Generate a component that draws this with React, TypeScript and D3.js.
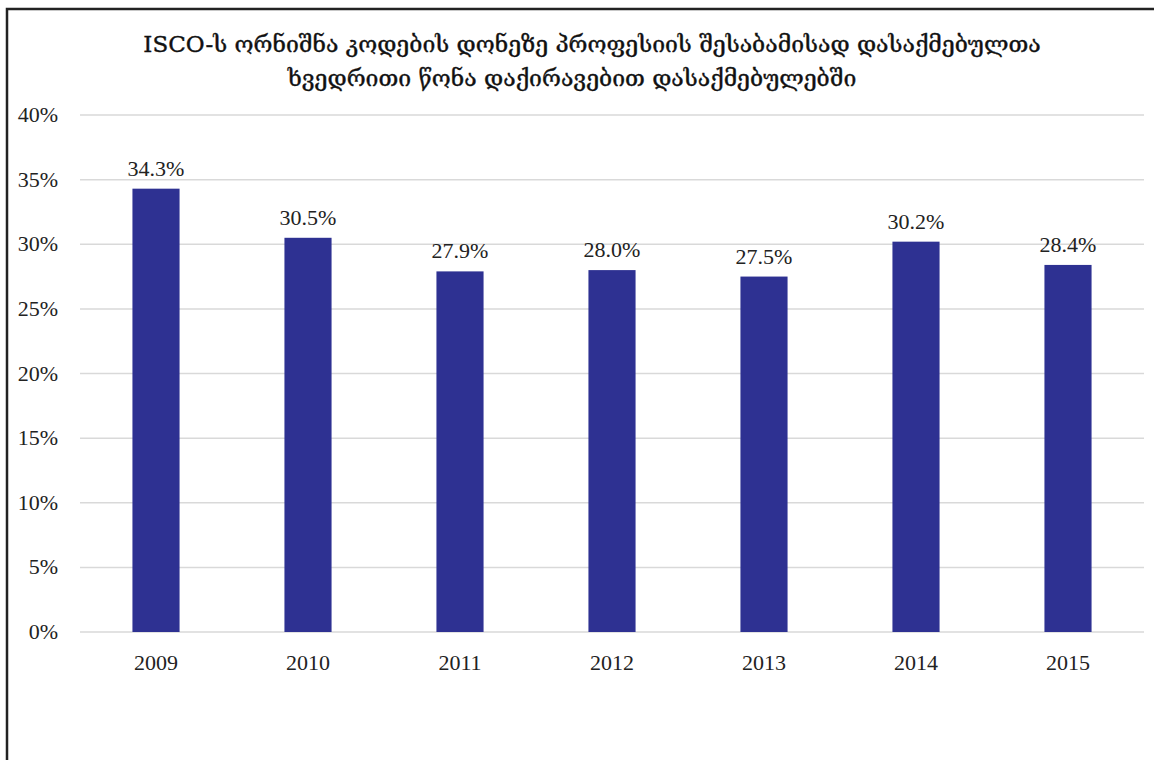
import React from "react";
import * as d3 from "d3";

const years = ["2009", "2010", "2011", "2012", "2013", "2014", "2015"];
const values = [34.3, 30.5, 27.9, 28.0, 27.5, 30.2, 28.4];
const yTicks = [0, 5, 10, 15, 20, 25, 30, 35, 40];
const titleLines = [
  "ISCO-ს ორნიშნა კოდების დონეზე პროფესიის შესაბამისად  დასაქმებულთა",
  "ხვედრითი წონა დაქირავებით დასაქმებულებში",
];

export default function App() {
  const W = 1154, H = 760;
  const left = 80, right = 1144, top = 115, bottom = 632;
  const x = d3.scaleBand<string>().domain(years).range([left, right]).paddingInner(0.69).paddingOuter(0.345);
  const y = d3.scaleLinear().domain([0, 40]).range([bottom, top]);
  const serif = "'Liberation Serif', 'DejaVu Serif', serif";
  return (
    <svg width={W} height={H} style={{ position: "absolute", left: 0, top: 0, background: "#fff" }}>
      <rect x={0} y={0} width={W} height={H} fill="#fff" />
      <path d={`M7,${H + 5} L7,9 L${W + 5},9`} fill="none" stroke="#222" strokeWidth={2.5} />
      {titleLines.map((t, i) => (
        <text key={i} x={i === 0 ? 592 : 572} y={52 + i * 34} textAnchor="middle"
          fontFamily="'DejaVu Serif', 'DejaVu Sans', serif" fontSize={23} fill="#111"
          stroke="#111" strokeWidth={0.4}>{t}</text>
      ))}
      {yTicks.map((t) => (
        <g key={t}>
          <line x1={left} x2={right} y1={y(t)} y2={y(t)} stroke="#d9d9d9" strokeWidth={1.5} />
          <text x={58} y={y(t) + 7} textAnchor="end" fontFamily={serif} fontSize={22} fill="#222">{t}%</text>
        </g>
      ))}
      {years.map((yr, i) => (
        <g key={yr}>
          <rect x={x(yr)} y={y(values[i])} width={x.bandwidth()} height={bottom - y(values[i])} fill="#2E3192" />
          <text x={(x(yr) as number) + x.bandwidth() / 2} y={y(values[i]) - 13} textAnchor="middle"
            fontFamily={serif} fontSize={22} fill="#222">{values[i].toFixed(1)}%</text>
          <text x={(x(yr) as number) + x.bandwidth() / 2} y={670} textAnchor="middle"
            fontFamily={serif} fontSize={22} fill="#222">{yr}</text>
        </g>
      ))}
    </svg>
  );
}
